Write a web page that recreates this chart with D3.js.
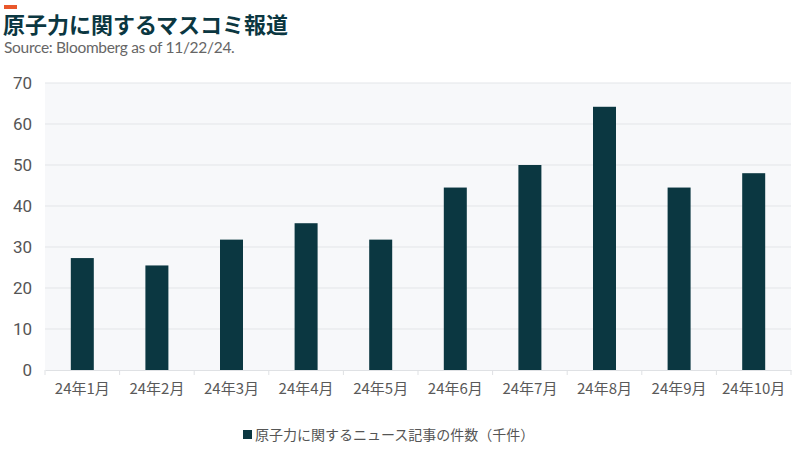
<!DOCTYPE html>
<html>
<head>
<meta charset="utf-8">
<script src="https://cdn.jsdelivr.net/npm/d3@7"></script>
<style>
  body { margin: 0; background: #fff; }
  svg { display: block; }
</style>
</head>
<body>
<div id="chart-area"></div>
<script>
const months = ["24年1月", "24年2月", "24年3月", "24年4月", "24年5月", "24年6月", "24年7月", "24年8月", "24年9月", "24年10月"];
const articles = [27.3, 25.5, 31.8, 35.8, 31.8, 44.5, 50.0, 64.2, 44.5, 48.0];
const yTicks = [0, 10, 20, 30, 40, 50, 60, 70];
const seriesName = "原子力に関するニュース記事の件数（千件）";

const WIDTH = 800, HEIGHT = 450;
const MARGIN = { LEFT: 45, RIGHT: 9, TOP: 83, BOTTOM: 80 };
const innerW = WIDTH - MARGIN.LEFT - MARGIN.RIGHT;
const innerH = HEIGHT - MARGIN.TOP - MARGIN.BOTTOM;
const barColor = "#0b3741";
const textFont = "Roboto, 'Noto Sans CJK JP', sans-serif";

const svg = d3.select("#chart-area").append("svg")
  .attr("width", WIDTH)
  .attr("height", HEIGHT)

// header
svg.append("rect").attr("x", 4).attr("y", 5).attr("width", 13).attr("height", 4).attr("fill", "#e9572b")
svg.append("text")
  .attr("x", 3).attr("y", 33)
  .attr("font-family", "'Noto Sans CJK JP', sans-serif")
  .attr("font-weight", 700)
  .attr("font-size", 22)
  .attr("fill", "#0b3741")
  .text("原子力に関するマスコミ報道")
svg.append("text")
  .attr("x", 4).attr("y", 53)
  .attr("font-family", "Lato, sans-serif")
  .attr("font-size", 15.5)
  .attr("letter-spacing", -0.3)
  .attr("fill", "#666")
  .text("Source: Bloomberg as of 11/22/24.")

const g = svg.append("g")
  .attr("transform", `translate(${MARGIN.LEFT}, ${MARGIN.TOP})`)

const x = d3.scaleBand()
  .domain(months)
  .range([0, innerW])
  .paddingInner(0)

const y = d3.scaleLinear()
  .domain([0, 70])
  .range([innerH, 0])

g.append("rect")
  .attr("width", innerW).attr("height", innerH)
  .attr("fill", "#f7f8fa")

g.selectAll(".grid").data(yTicks.slice(1)).enter().append("line")
  .attr("class", "grid")
  .attr("x1", 0).attr("x2", innerW)
  .attr("y1", d => y(d)).attr("y2", d => y(d))
  .attr("stroke", "#e3e5e8")
  .attr("stroke-width", 1)

const barW = 23;
g.selectAll(".bar").data(articles).enter().append("rect")
  .attr("class", "bar")
  .attr("x", (d, i) => x(months[i]) + x.bandwidth() / 2 - barW / 2)
  .attr("y", d => y(d))
  .attr("width", barW)
  .attr("height", d => innerH - y(d))
  .attr("fill", barColor)

const leftAxis = d3.axisLeft(y)
  .tickValues(yTicks)
  .tickSize(0)
  .tickPadding(13)
g.append("g")
  .call(leftAxis)
  .call(a => a.select(".domain").remove())
  .selectAll("text")
    .attr("font-family", textFont)
    .attr("font-size", 17)
    .attr("fill", "#555")

const bottomAxis = d3.axisBottom(x).tickSize(0).tickPadding(13)
const xa = g.append("g")
  .attr("transform", `translate(0, ${innerH})`)
  .call(bottomAxis)
xa.select(".domain").attr("stroke", "#dfe1e4")
xa.selectAll("text")
  .attr("font-family", "'Noto Sans CJK JP', sans-serif")
  .attr("font-size", 15)
  .attr("fill", "#595959")
xa.selectAll(".sep").data(d3.range(months.length + 1)).enter().append("line")
  .attr("class", "sep")
  .attr("x1", i => i * x.step()).attr("x2", i => i * x.step())
  .attr("y1", 0).attr("y2", 5)
  .attr("stroke", "#dfe1e4")

// legend
const legend = svg.append("g").attr("transform", "translate(243, 435)")
legend.append("rect").attr("x", 0).attr("y", -5).attr("width", 9).attr("height", 9).attr("fill", barColor)
legend.append("text")
  .attr("x", 12).attr("y", 0)
  .attr("dy", "0.35em")
  .attr("font-family", "'Noto Sans CJK JP', sans-serif")
  .attr("font-size", 14)
  .attr("fill", "#555")
  .text(seriesName)
</script>
</body>
</html>
